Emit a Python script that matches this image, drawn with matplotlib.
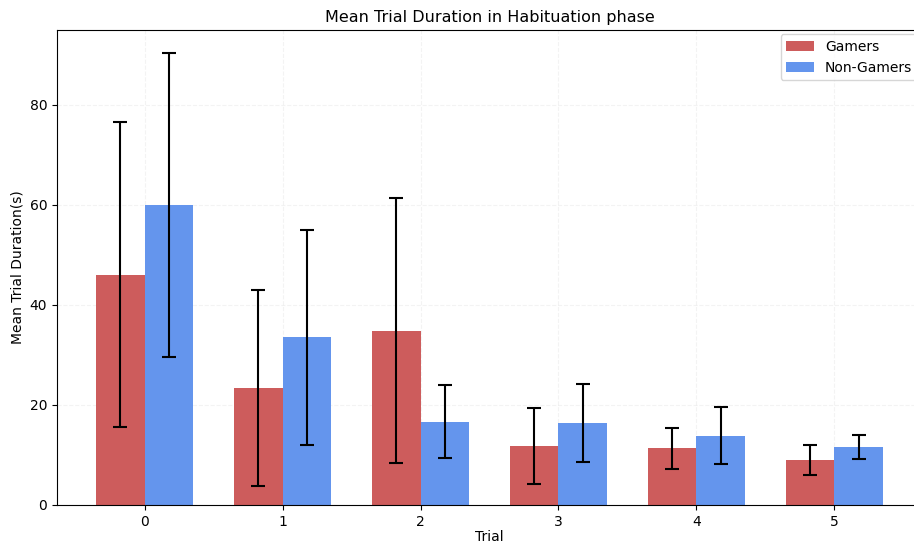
import numpy as np
import matplotlib
matplotlib.use('Agg')
import matplotlib.pyplot as plt

trials = [0, 1, 2, 3, 4, 5]
gamers_mean = [46.0, 23.4, 34.8, 11.7, 11.3, 8.9]
gamers_err = [30.5, 19.6, 26.5, 7.6, 4.1, 3.0]
nongamers_mean = [60.0, 33.5, 16.6, 16.4, 13.8, 11.5]
nongamers_err = [30.4, 21.5, 7.3, 7.8, 5.7, 2.4]

x = np.array(trials)
width = 0.35

fig = plt.figure(figsize=(9.14, 5.44), dpi=100)
# axes runs a little past the right edge, like the cropped reference
ax = fig.add_axes([57/914, 39/544, (922-57)/914, (505-30)/544])

ax.bar(x - width/2, gamers_mean, width, yerr=gamers_err, capsize=5,
       color='indianred', label='Gamers',
       error_kw=dict(ecolor='black', elinewidth=1.5, capthick=1.5))
ax.bar(x + width/2, nongamers_mean, width, yerr=nongamers_err, capsize=5,
       color='cornflowerblue', label='Non-Gamers',
       error_kw=dict(ecolor='black', elinewidth=1.5, capthick=1.5))

ax.set_xticks(x)
ax.set_title('Mean Trial Duration in Habituation phase', fontsize=11.5)
ax.set_xlabel('Trial', labelpad=1)
ax.set_ylabel('Mean Trial Duration(s)')
ax.legend(loc='upper right', borderaxespad=0.3)
ax.grid(True, linestyle='--', alpha=0.15)
ax.set_axisbelow(True)
ax.spines['right'].set_visible(False)

fig.savefig('out.png', dpi=100)
